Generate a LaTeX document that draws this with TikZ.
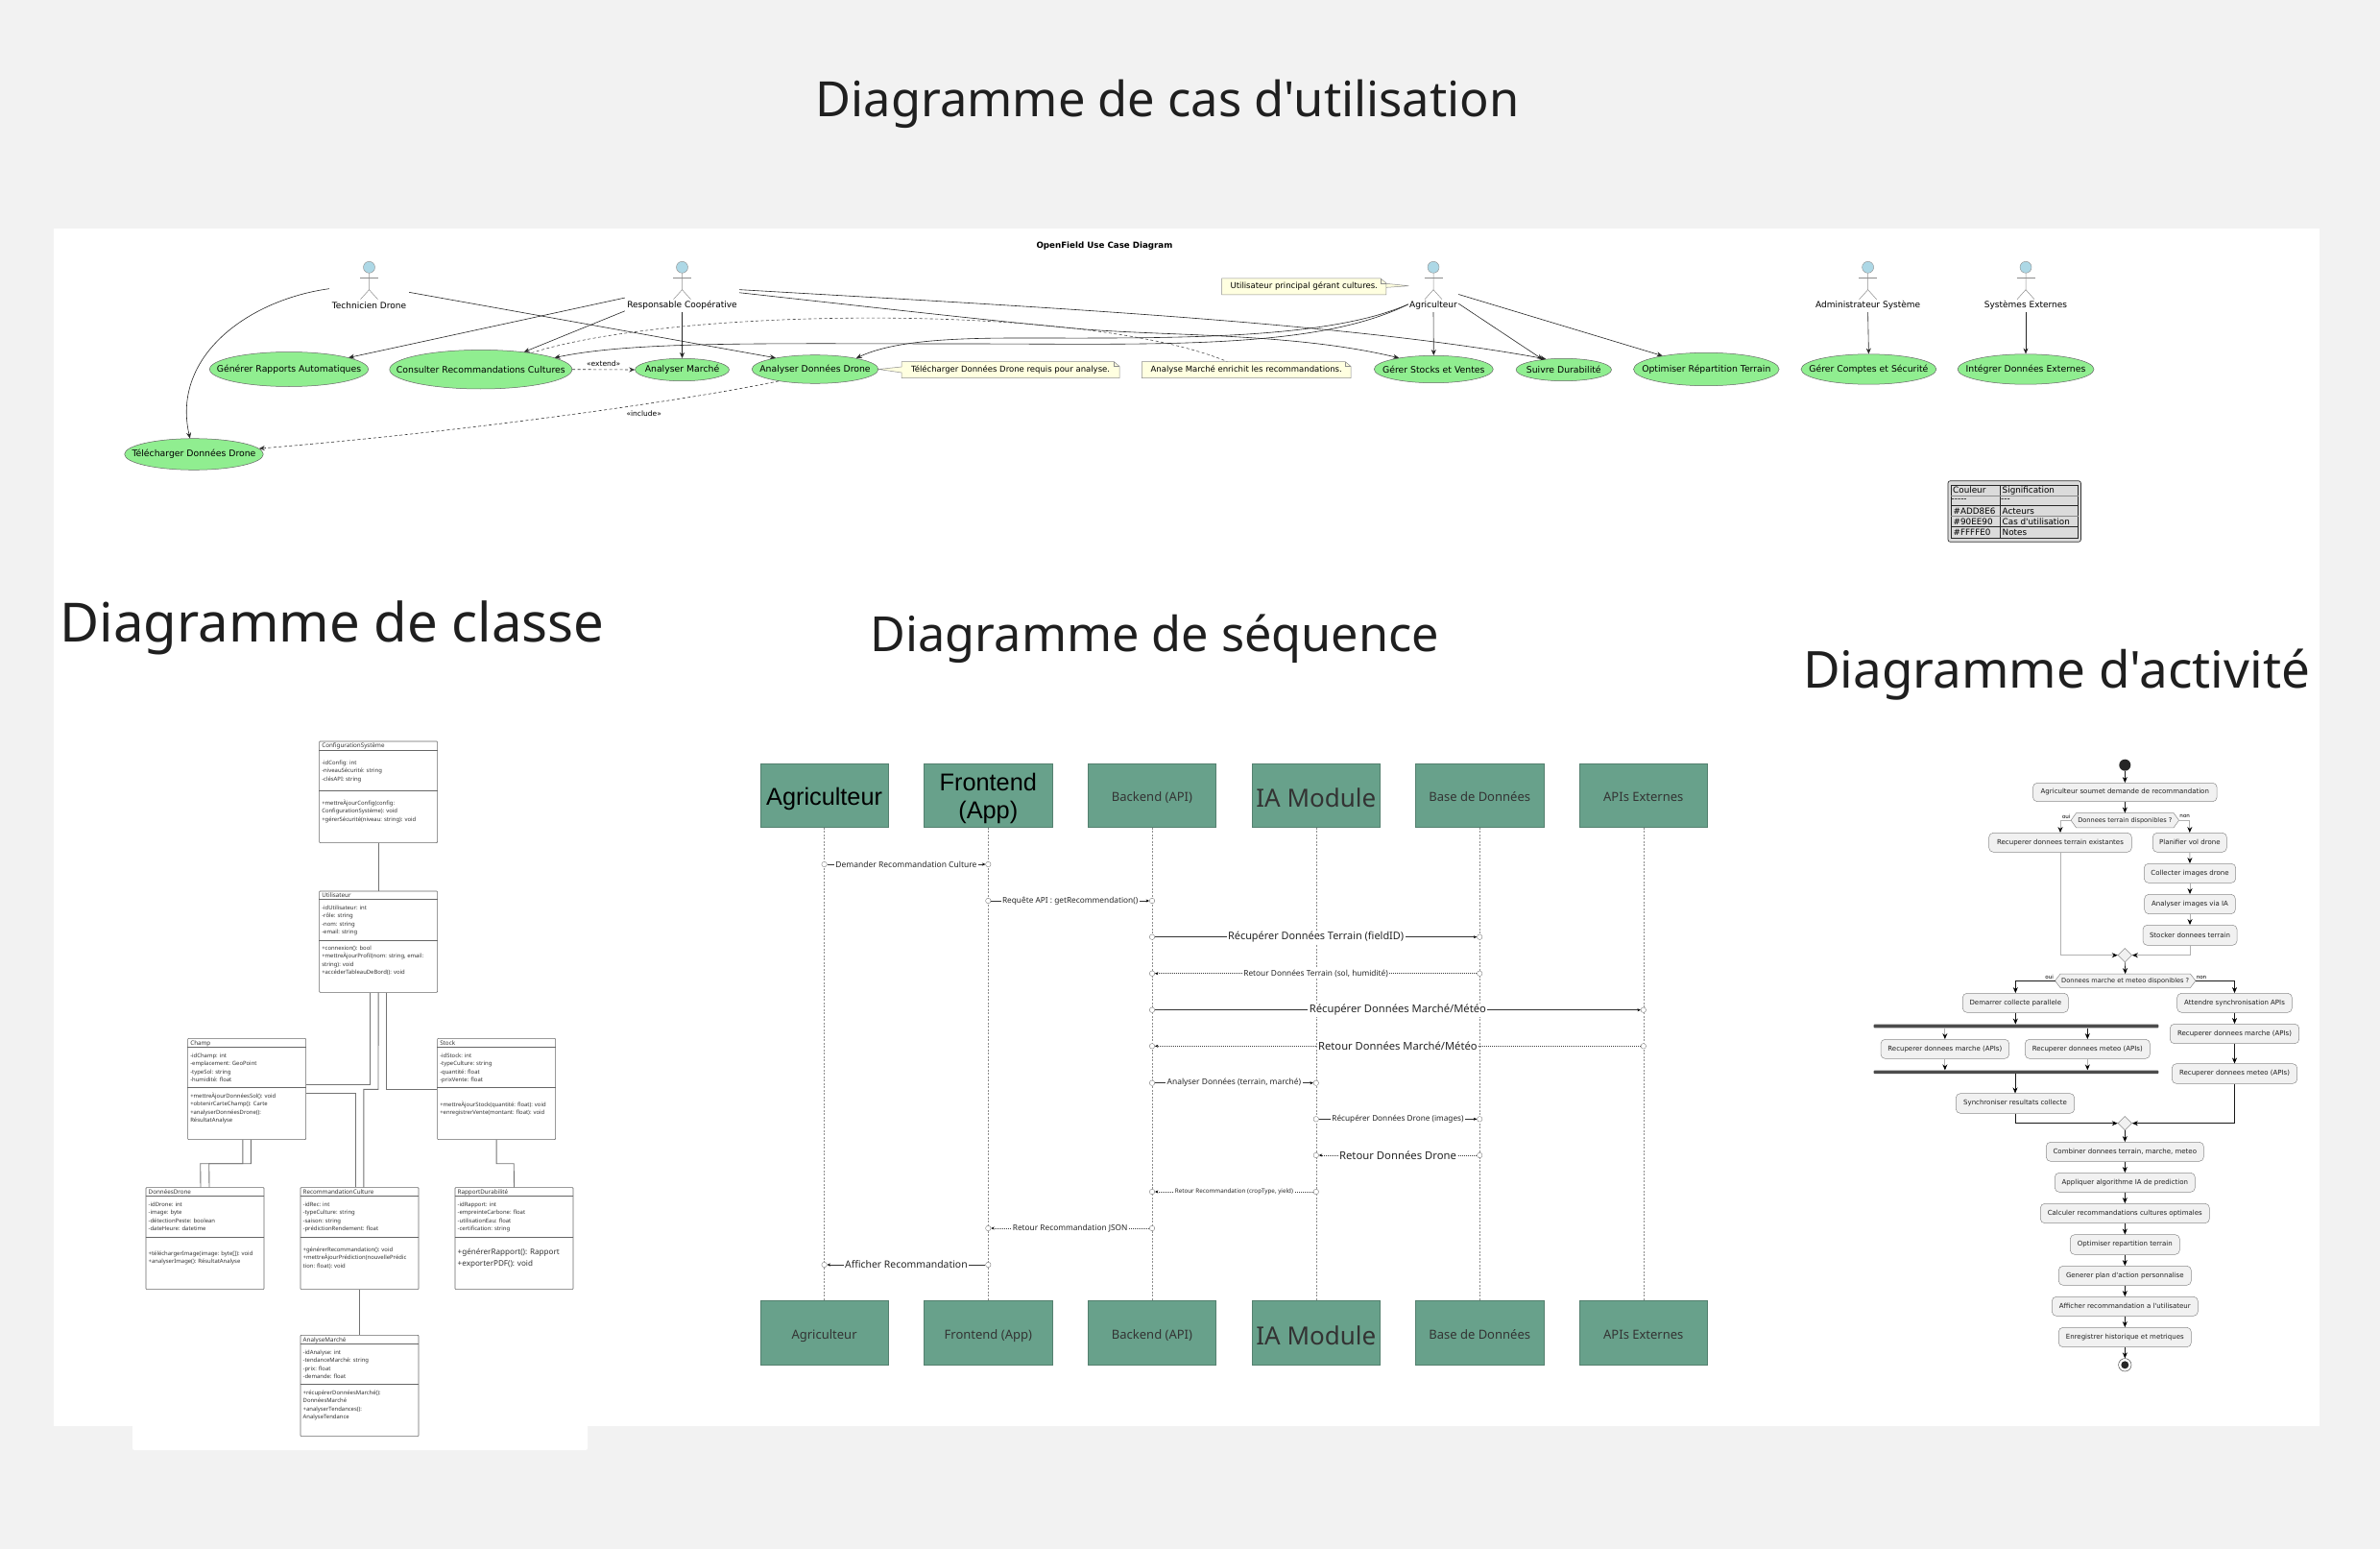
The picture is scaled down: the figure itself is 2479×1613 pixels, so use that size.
\documentclass[tikz,border=0pt]{standalone}
\usepackage{fontspec}
\usetikzlibrary{arrows.meta,shapes.geometric,calc}
\setmainfont{Noto Sans}
\newfontfamily\nt{Noto Sans}
\newfontfamily\dv{DejaVu Sans}
\newfontfamily\lib{Liberation Sans}
\newcommand\fsl[2]{\fontsize{#1}{#2}\selectfont}
\definecolor{pagebg}{HTML}{F2F2F2}
\definecolor{seqfill}{HTML}{68A18B}
\definecolor{seqedge}{HTML}{54806F}
\definecolor{ucfill}{HTML}{90EE90}
\definecolor{notefill}{HTML}{FFFFE0}
\definecolor{headfill}{HTML}{ADD8E6}
\definecolor{actfill}{HTML}{F1F1F1}
\definecolor{txt}{HTML}{1F1F1F}
\tikzset{
  >={Stealth[length=6pt,width=5pt,inset=2pt]},
  pagetitle/.style={text=txt,inner sep=0pt},
  ucase/.style={ellipse,draw=black!60,fill=ucfill,line width=.5pt,inner sep=0pt,font=\dv\fsl{9.3}{11},text=black},
  uclink/.style={->,black!85,line width=.6pt},
  ucdash/.style={->,black!80,line width=.6pt,dash pattern=on 3pt off 2.5pt},
  actorbb/.style={inner sep=0pt,minimum height=53pt},
  actorlab/.style={inner sep=0pt,font=\dv\fsl{9}{11},text=black},
  headnode/.style={circle,draw=black!45,fill=headfill,inner sep=0pt,minimum size=12pt,line width=.4pt},
  stick/.style={black!45,line width=.5pt},
  notetext/.style={inner sep=0pt,font=\dv\fsl{8.5}{10},text=black},
  noteline/.style={draw=black!45,fill=notefill,line width=.5pt},
  legtxt/.style={inner sep=0pt,anchor=west,font=\dv\fsl{8.8}{10},text=black},
  clsbox/.style={draw=black!60,fill=white,line width=.6pt,inner sep=0pt,rounded corners=.8pt,anchor=north west,minimum width=123pt},
  clstitle/.style={inner sep=0pt,anchor=west,font=\fsl{6.25}{8},text=black!80},
  clslist/.style={inner sep=0pt,anchor=north west,align=left,font=\fsl{5.9}{8.5},text=black!80},
  clsrule/.style={black!60,line width=.6pt},
  clslink/.style={black!55,line width=.9pt},
  seqbox/.style={draw=seqedge,fill=seqfill,line width=.5pt,minimum width=133.4pt,minimum height=66.7pt,inner sep=0pt,align=center,text=black!80,font=\fsl{13}{16},text height=13pt,text depth=0pt},
  seqlarge/.style={font=\fsl{26}{28},text height=24pt,text depth=0pt},
  seqarial/.style={inner sep=0pt,align=center,text=black,font=\lib\fsl{25.3}{28.5}},
  lifeline/.style={black!45,line width=.45pt,dash pattern=on 2pt off 1.5pt},
  msgsolid/.style={black!80,line width=.6pt},
  msgdot/.style={black!75,line width=.6pt,dash pattern=on 1pt off 1pt},
  msgtxt/.style={fill=white,inner sep=1.5pt,text=black!85},
  endcirc/.style={circle,draw=black!50,fill=white,line width=.4pt,minimum size=5.5pt,inner sep=0pt},
  actbox/.style={draw=black!45,fill=actfill,rounded corners=4.5pt,line width=.5pt,inner sep=0pt,font=\dv\fsl{7}{8},text=txt},
  acttxt/.style={inner sep=0pt,font=\dv\fsl{6.6}{8},text=txt},
  actlbl/.style={inner sep=0pt,font=\dv\fsl{5.6}{7},text=black},
  actshape/.style={draw=black!45,fill=actfill,line width=.5pt},
  actflow/.style={-{Stealth[length=6pt,width=5pt,inset=2pt,black]},black!90,line width=.6pt},
  actpale/.style={-{Stealth[length=6pt,width=5pt,inset=2pt,black]},black!30,line width=.9pt},
  forkbar/.style={fill=black!70,rounded corners=.8pt,inner sep=0pt,minimum height=3.6pt},
  mergediam/.style={diamond,aspect=1,draw=black!45,fill=actfill,line width=.5pt,inner sep=0pt,minimum size=14.6pt},
}
% use case
\newcommand\ucnode[6]{\node[ucase,minimum width={2*#4},minimum height={2*#5}] (#1) at (#2,#3) {\makebox[0pt][c]{#6}};}
\newcommand\actor[4]{%
  \node[actorbb,minimum width={2*#3}] (#1) at (#2,298.5) {};
  \node[headnode] (#1H) at (#2,278.3) {};
  \node[actorlab] (#1L) at (#2,318.3) {#4};
  \draw[stick] (#1H.south) -- (#2,301.7) -- ({#2-9},311.7);
  \draw[stick] (#2,301.7) -- ({#2+9},311.7);
  \draw[stick] ({#2-9.5},289) -- ({#2+9.5},289);
}
\newcommand\notebox[6]{\node[notetext,minimum width={#4-#2},minimum height={#5-#3}] (#1) at ({(#2+#4)/2},{(#3+#5)/2}) {#6};}
% classes
\newcommand\cls[6]{%
  \node[clsbox,minimum height={#4-#3}] (#1) at (#2,#3) {};
  \draw[clsrule] (#1.west |- 0,#5) -- (#1.east |- 0,#5);
  \draw[clsrule] (#1.west |- 0,#6) -- (#1.east |- 0,#6);
}
\newcommand\clst[5]{\node[clstitle] (#1) at ({#2+2.8},#3) {#4};}
\newcommand\clsl[4]{\node[clslist] (#1) at ({#2+2.8},{#3-4.4}) {\strut #4};}
\newcommand\clsL[4]{\node[clslist,font=\fsl{8.1}{12}] (#1) at ({#2+2.8},{#3-6.2}) {\strut #4};}
% sequence
\newcommand\msg[7]{%
  \coordinate (#1a) at (#3 |- 0,#5);
  \coordinate (#1b) at (#4 |- 0,#5);
  \node[endcirc] (#1c) at (#1a) {};
  \node[endcirc] (#1d) at (#1b) {};
  \draw[#2,-{Stealth[length=3.4pt,width=3pt,black]}] (#1c) -- (#1d);
  \node[msgtxt,font=\fsl{#6}{#6}] (#1t) at ($(#1a)!.5!(#1b)$) {#7};
}
% activity
\newcommand\actn[6]{\node[actbox,minimum width={#4-#2},minimum height={#5-#3}] (#1) at ({(#2+#4)/2},{(#3+#5)/2}) {#6};}
\newcommand\actc[5]{\node[actbox,minimum width={2*#2},minimum height={#4-#3}] (#1) at (2213.3,{(#3+#4)/2}) {#5};}
\newcommand\hexn[6]{%
  \node[acttxt,minimum width={#4-#2},minimum height={#5-#3}] (#1) at ({(#2+#4)/2},{(#3+#5)/2}) {};
  \draw[actshape] (#1.west) -- ([xshift=5.5pt]#1.north west) -- ([xshift=-5.5pt]#1.north east) -- (#1.east) -- ([xshift=-5.5pt]#1.south east) -- ([xshift=5.5pt]#1.south west) -- cycle;
  \node[acttxt] (#1T) at (#1) {#6};
}
\begin{document}
\begin{tikzpicture}[x=1pt,y=-1pt]
\useasboundingbox (0,0) rectangle (2479,1613);
\fill[pagebg] (0,0) rectangle (2479,1613);
\fill[white] (56,238) rectangle (2416,1485);
\fill[white,rounded corners=2pt] (138,757) rectangle (612,1510);

% titles
\node[pagetitle,font=\nt\fsl{50.6}{52}] (t1) at (1216,108) {Diagramme de cas d'utilisation};
\node[pagetitle,font=\nt\fsl{56.3}{60}] (t2) at (346,654) {Diagramme de classe};
\node[pagetitle,font=\nt\fsl{50.4}{55}] (t3) at (1203,665) {Diagramme de séquence};
\node[pagetitle,font=\nt\fsl{53}{55}] (t4) at (2142,703) {Diagramme d'activité};

% ---------- use case ----------
\node[inner sep=0pt,font=\dv\bfseries\fsl{8.7}{10},text=black] (uctitle) at (1150.5,256) {OpenField Use Case Diagram};
\actor{aTech}{384.5}{41.5}{Technicien Drone}
\actor{aResp}{710.5}{59.5}{Responsable Coopérative}
\actor{aAgri}{1493}{26}{Agriculteur}
\actor{aAdmin}{1945.6}{56}{Administrateur Système}
\actor{aSys}{2110}{45}{Systèmes Externes}

\ucnode{uGen}{301}{384.5}{82.6}{18}{Générer Rapports Automatiques}
\ucnode{uCons}{500.8}{384.7}{95}{20.3}{Consulter Recommandations Cultures}
\ucnode{uMar}{710.5}{385}{49}{11.7}{Analyser Marché}
\ucnode{uAna}{849}{384.5}{65.8}{14.8}{Analyser Données Drone}
\ucnode{uTel}{202}{473}{72.3}{16.3}{Télécharger Données Drone}
\ucnode{uSto}{1493.3}{384.5}{62}{14.2}{Gérer Stocks et Ventes}
\ucnode{uDur}{1628.8}{385}{49.7}{11.7}{Suivre Durabilité}
\ucnode{uOpt}{1777.3}{384.5}{75.8}{17.2}{Optimiser Répartition Terrain}
\ucnode{uCpt}{1946.4}{384.5}{70.4}{15.7}{Gérer Comptes et Sécurité}
\ucnode{uInt}{2110}{384.5}{71}{15.7}{Intégrer Données Externes}

% notes
\notebox{nTel}{939.3}{376.7}{1165.9}{393.3}{}
\notebox{nMar}{1189.6}{376.7}{1406.8}{393.3}{}
\notebox{nAgr}{1272.9}{290}{1443.6}{306.7}{}
\draw[noteline] (nTel.north west) -- ([xshift=-6pt]nTel.north east) -- ([yshift=-5pt]nTel.north east) -- (nTel.south east) -- (nTel.south west) -- ([yshift=-3pt]nTel.west) -- (uAna.east) -- ([yshift=3pt]nTel.west) -- cycle;
\draw[noteline] (nMar.north west) -- ([xshift=-6pt]nMar.north east) -- ([yshift=-5pt]nMar.north east) -- (nMar.south east) -- (nMar.south west) -- cycle;
\coordinate (nAgrTip) at (1467.3,297.7);
\draw[noteline] (nAgr.north west) -- ([xshift=-6pt]nAgr.north east) -- ([yshift=-5pt]nAgr.north east) -- ([yshift=-1pt]nAgr.east) -- (nAgrTip) -- ([yshift=3pt]nAgr.east) -- (nAgr.south east) -- (nAgr.south west) -- cycle;
\draw[black!45,line width=.5pt] ([xshift=-6pt]nTel.north east) -- ([xshift=-6pt,yshift=-5pt]nTel.north east) -- ([yshift=-5pt]nTel.north east);
\draw[black!45,line width=.5pt] ([xshift=-6pt]nMar.north east) -- ([xshift=-6pt,yshift=-5pt]nMar.north east) -- ([yshift=-5pt]nMar.north east);
\draw[black!45,line width=.5pt] ([xshift=-6pt]nAgr.north east) -- ([xshift=-6pt,yshift=-5pt]nAgr.north east) -- ([yshift=-5pt]nAgr.north east);
\node[notetext] (nTelT) at (nTel) {Télécharger Données Drone requis pour analyse.};
\node[notetext] (nMarT) at (nMar) {Analyse Marché enrichit les recommandations.};
\node[notetext] (nAgrT) at (nAgr) {Utilisateur principal gérant cultures.};

% links
\draw[uclink] (aTech.183) .. controls (260,312) and (178,370) .. (uTel.104);
\draw[uclink] (aTech.-8) -- (uAna.164.6);
\draw[uclink] (aResp.191.8) -- (uGen.11.7);
\draw[uclink] (aResp.203.3) -- (uCons.22.8);
\draw[uclink] (aResp.south) -- (uMar.north);
\draw[uclink] (aResp.-3) .. controls (1050,318) and (1400,335) .. (uDur.149);
\draw[uclink] (aResp.-6.2) .. controls (900,319) and (1050,336) .. (1131,343) .. controls (1220,350) and (1350,347) .. (uSto.162.4);
\draw[uclink] (aAgri.215) .. controls (1370,365) and (1200,358) .. (1000,358) .. controls (800,358) and (660,355) .. (uCons.9.3);
\draw[uclink] (aAgri.215) .. controls (1380,355) and (1210,352) .. (1060,352) .. controls (990,352) and (930,355) .. (uAna.15.6);
\draw[uclink] (aAgri.south) -- (uSto.north);
\draw[uclink] (aAgri.-34) -- (uDur.154.8);
\draw[uclink] (aAgri.-17.5) -- (uOpt.163.4);
\draw[uclink] (aAdmin.south) -- (uCpt.north);
\draw[uclink] (aSys.south) -- (uInt.north);
\draw[ucdash] (uCons.east) -- node[above=3pt,inner sep=0pt,font=\dv\fsl{7.5}{9},text=black] (lExt) {«extend»} (uMar.west);
\draw[ucdash] (uAna.198.2) .. controls (710,418) and (480,450) .. (uTel.5.3);
\node[inner sep=0pt,font=\dv\fsl{7.5}{9},text=black] (lInc) at (670.7,431) {«include»};
\draw[black!70,line width=.6pt,dash pattern=on 3pt off 2.5pt] (uCons.18.2) .. controls (700,320) and (1130,315) .. (nMar.157.5);

% legend
\node[draw=black!80,fill=black!14,rounded corners=2.5pt,line width=.7pt,minimum width=138.5pt,minimum height=63.6pt,inner sep=0pt] (legend) at (2098.2,532.5) {};
\draw[black!85,line width=.7pt] (2032,505.7) rectangle (2164.5,560);
\draw[black!85,line width=.6pt] (2083.3,505.7) -- (2083.3,560);
\draw[black!45,line width=1.2pt] (2032,516.3) -- (2164.5,516.3);
\draw[black!85,line width=.7pt] (2032,526.3) -- (2164.5,526.3);
\draw[black!45,line width=1.2pt] (2032,537.7) -- (2164.5,537.7);
\draw[black!85,line width=.7pt] (2032,548.7) -- (2164.5,548.7);
\node[legtxt] (lg1) at (2034,510.6) {Couleur};
\node[legtxt] (lg2) at (2085.5,510.6) {Signification};
\node[legtxt] (lg3) at (2032.5,521.4) {-----};
\node[legtxt] (lg4) at (2084,521.4) {---};
\node[legtxt] (lg5) at (2034.5,532.2) {\#ADD8E6};
\node[legtxt] (lg6) at (2085.5,532.2) {Acteurs};
\node[legtxt] (lg7) at (2034.5,543.2) {\#90EE90};
\node[legtxt] (lg8) at (2085.5,543.2) {Cas d'utilisation};
\node[legtxt] (lg9) at (2034.5,554) {\#FFFFE0};
\node[legtxt] (lg10) at (2085.5,554) {Notes};

% ---------- classes ----------
\cls{cCfg}{332.3}{771.7}{877.3}{781.7}{823.3}
\cls{cUsr}{332.3}{927.7}{1033}{936.7}{979.3}
\cls{cCha}{195.3}{1081}{1186.3}{1090.7}{1132.7}
\cls{cSto}{455.3}{1081}{1186.3}{1090.7}{1132.7}
\cls{cDro}{151.7}{1236.3}{1342.3}{1245.7}{1288.3}
\cls{cRec}{312.7}{1236.3}{1342.3}{1245.7}{1288.3}
\cls{cRap}{473.7}{1236.3}{1342.3}{1245.7}{1288.3}
\cls{cAna}{312.7}{1390}{1495.3}{1399.7}{1441.7}

\clst{cCfgT}{332.3}{777}{ConfigurationSystème}{}
\clsl{cCfgA}{332.3}{794.7}{-idConfig: int\\-niveauSécurité: string\\-clésAPI: string}
\clsl{cCfgM}{332.3}{836.7}{+mettreÀjourConfig(config:\\ConfigurationSystème): void\\+gérerSécurité(niveau: string): void}

\clst{cUsrT}{332.3}{932.5}{Utilisateur}{}
\clsl{cUsrA}{332.3}{945.3}{-idUtilisateur: int\\-rôle: string\\-nom: string\\-email: string}
\clsl{cUsrM}{332.3}{987.7}{+connexion(): bool\\+mettreÀjourProfil(nom: string, email:\\string): void\\+accéderTableauDeBord(): void}

\clst{cChaT}{195.3}{1086.5}{Champ}{}
\clsl{cChaA}{195.3}{1099.3}{-idChamp: int\\-emplacement: GeoPoint\\-typeSol: string\\-humidité: float}
\clsl{cChaM}{195.3}{1141.7}{+mettreÀjourDonnéesSol(): void\\+obtenirCarteChamp(): Carte\\+analyserDonnéesDrone():\\RésultatAnalyse}

\clst{cStoT}{455.3}{1086.5}{Stock}{}
\clsl{cStoA}{455.3}{1099.3}{-idStock: int\\-typeCulture: string\\-quantité: float\\-prixVente: float}
\clsl{cStoM}{455.3}{1150.3}{+mettreÀjourStock(quantité: float): void\\+enregistrerVente(montant: float): void}

\clst{cDroT}{151.7}{1241.5}{DonnéesDrone}{}
\clsl{cDroA}{151.7}{1254.7}{-idDrone: int\\-image: byte\\-détectionPeste: boolean\\-dateHeure: datetime}
\clsl{cDroM}{151.7}{1305.3}{+téléchargerImage(image: byte[]): void\\+analyserImage(): RésultatAnalyse}

\clst{cRecT}{312.7}{1241.5}{RecommandationCulture}{}
\clsl{cRecA}{312.7}{1254.7}{-idRec: int\\-typeCulture: string\\-saison: string\\-prédictionRendement: float}
\clsl{cRecM}{312.7}{1301.3}{+générerRecommandation(): void\\+mettreÀjourPrédiction(nouvellePrédic\\tion: float): void}

\clst{cRapT}{473.7}{1241.5}{RapportDurabilité}{}
\clsl{cRapA}{473.7}{1254.7}{-idRapport: int\\-empreinteCarbone: float\\-utilisationEau: float\\-certification: string}
\clsL{cRapM}{473.7}{1304}{+générerRapport(): Rapport\\+exporterPDF(): void}

\clst{cAnaT}{312.7}{1395.5}{AnalyseMarché}{}
\clsl{cAnaA}{312.7}{1408.3}{-idAnalyse: int\\-tendanceMarché: string\\-prix: float\\-demande: float}
\clsl{cAnaM}{312.7}{1450.7}{+récupérerDonnéesMarché():\\DonnéesMarché\\+analyserTendances():\\AnalyseTendance}

\draw[clslink] (cCfg.south) -- (cUsr.north);
\draw[clslink] ([xshift=-8.7pt]cUsr.south) |- (cCha.east |- 0,1129.3);
\draw[clslink] (cUsr.south) -- (394,1134.3) -| ([xshift=4.3pt]cRec.north);
\draw[clslink] ([xshift=8.7pt]cUsr.south) |- (cSto.west |- 0,1134);
\draw[clslink] (cCha.east |- 0,1138.3) -| ([xshift=-4.5pt]cRec.north);
\draw[clslink] ([xshift=-4.3pt]cCha.south) |- (208.7,1211.7) -- ([xshift=-4.5pt]cDro.north);
\draw[clslink] ([xshift=4.3pt]cCha.south) |- (217.7,1211.7) -- ([xshift=4.5pt]cDro.north);
\draw[clslink] (cSto.south) |- (535.2,1211.7) -- (cRap.north);
\draw[clslink] (cRec.south) -- (cAna.north);

% ---------- sequence ----------
\node[seqbox] (sA) at (858.6,828.3) {};
\node[seqarial] (sAt) at (858.6,831.5) {Agriculteur};
\node[seqbox] (sF) at (1029.3,828.3) {};
\node[seqarial] (sFt) at (1029.3,831.5) {Frontend\\(App)};
\node[seqbox] (sB) at (1200,828.3) {Backend (API)};
\node[seqbox,seqlarge] (sI) at (1370.8,828.3) {IA Module};
\node[seqbox] (sD) at (1541.2,828.3) {Base de Données};
\node[seqbox] (sE) at (1711.8,828.3) {APIs Externes};
\node[seqbox] (bA) at (858.6,1388) {Agriculteur};
\node[seqbox] (bF) at (1029.3,1388) {Frontend (App)};
\node[seqbox] (bB) at (1200,1388) {Backend (API)};
\node[seqbox,seqlarge] (bI) at (1370.8,1388) {IA Module};
\node[seqbox] (bD) at (1541.2,1388) {Base de Données};
\node[seqbox] (bE) at (1711.8,1388) {APIs Externes};
\draw[lifeline] (sA.south) -- (bA.north);
\draw[lifeline] (sF.south) -- (bF.north);
\draw[lifeline] (sB.south) -- (bB.north);
\draw[lifeline] (sI.south) -- (bI.north);
\draw[lifeline] (sD.south) -- (bD.north);
\draw[lifeline] (sE.south) -- (bE.north);
\msg{m1}{msgsolid}{sA}{sF}{900}{8.5}{Demander Recommandation Culture}
\msg{m2}{msgsolid}{sF}{sB}{938}{8.3}{Requête API : getRecommendation()}
\msg{m3}{msgsolid}{sB}{sD}{975.7}{10.9}{Récupérer Données Terrain (fieldID)}
\msg{m4}{msgdot}{sD}{sB}{1013.7}{8.3}{Retour Données Terrain (sol, humidité)}
\msg{m5}{msgsolid}{sB}{sE}{1051.7}{11.2}{Récupérer Données Marché/Météo}
\msg{m6}{msgdot}{sE}{sB}{1089.3}{11.2}{Retour Données Marché/Météo}
\msg{m7}{msgsolid}{sB}{sI}{1127.7}{8.4}{Analyser Données (terrain, marché)}
\msg{m8}{msgsolid}{sI}{sD}{1165.3}{8.2}{Récupérer Données Drone (images)}
\msg{m9}{msgdot}{sD}{sI}{1203}{11.3}{Retour Données Drone}
\msg{m10}{msgdot}{sI}{sB}{1241}{6.25}{Retour Recommandation (cropType, yield)}
\msg{m11}{msgdot}{sB}{sF}{1279}{8.3}{Retour Recommandation JSON}
\msg{m12}{msgsolid}{sF}{sA}{1317}{10.4}{Afficher Recommandation}

% ---------- activity ----------
\node[circle,fill=black!85,minimum size=12pt,inner sep=0pt] (acS) at (2213.3,796.7) {};
\actc{ac1}{95.8}{815.3}{834.7}{Agriculteur soumet demande de recommandation}
\hexn{dec1}{2157.3}{846.7}{2269.3}{861.7}{Donnees terrain disponibles ?}
\node[actlbl] (lo1) at (2152.3,850.3) {oui};
\node[actlbl] (ln1) at (2275.7,850.3) {non};
\actn{ac2}{2071.7}{867.3}{2220.3}{887.3}{Recuperer donnees terrain existantes}
\actn{ac3}{2242.3}{867.3}{2319.3}{887.3}{Planifier vol drone}
\actn{ac4}{2233.3}{899.3}{2328.7}{919.3}{Collecter images drone}
\actn{ac5}{2233.7}{931.3}{2328.3}{951.7}{Analyser images via IA}
\actn{ac6}{2232}{963.3}{2330}{984.3}{Stocker donnees terrain}
\node[mergediam] (mg1) at (2213.3,994.7) {};
\hexn{dec2}{2140.7}{1014.3}{2286.7}{1028.3}{Donnees marche et meteo disponibles ?}
\node[actlbl] (lo2) at (2134.7,1017.3) {oui};
\node[actlbl] (ln2) at (2293,1017.7) {non};
\actn{ac7}{2044.3}{1034.3}{2154.3}{1054.3}{Demarrer collecte parallele}
\actn{ac8}{2267.7}{1034.3}{2387.3}{1054.3}{Attendre synchronisation APIs}
\node[forkbar,minimum width=296.6pt] (fk1) at (2100,1068.5) {};
\node[forkbar,minimum width=296.6pt] (fk2) at (2100,1116.4) {};
\actn{ac9}{1959}{1082.3}{2092.7}{1102.3}{Recuperer donnees marche (APIs)}
\actn{ac10}{2109.3}{1082.3}{2239.3}{1102.3}{Recuperer donnees meteo (APIs)}
\actn{ac11}{2037.3}{1138.7}{2160.7}{1159.3}{Synchroniser resultats collecte}
\actn{ac12}{2260.3}{1066.3}{2394.7}{1086.7}{Recuperer donnees marche (APIs)}
\actn{ac13}{2262.3}{1107.7}{2392.7}{1128.3}{Recuperer donnees meteo (APIs)}
\node[mergediam] (mg2) at (2213.3,1169.7) {};
\actc{ac14}{82}{1189.3}{1209.3}{Combiner donnees terrain, marche, meteo}
\actc{ac15}{73}{1221.3}{1241.3}{Appliquer algorithme IA de prediction}
\actc{ac16}{88}{1253.3}{1273.7}{Calculer recommandations cultures optimales}
\actc{ac17}{57}{1285.7}{1306.3}{Optimiser repartition terrain}
\actc{ac18}{69}{1318.3}{1338.3}{Generer plan d'action personnalise}
\actc{ac19}{76}{1350.3}{1370.3}{Afficher recommandation a l'utilisateur}
\actc{ac20}{69}{1382.3}{1402.7}{Enregistrer historique et metriques}
\node[circle,draw=black!70,fill=white,line width=.5pt,minimum size=13.4pt,inner sep=0pt] (acE) at (2213.3,1421.3) {};
\node[circle,fill=black!85,minimum size=8pt,inner sep=0pt] (acEi) at (acE) {};

\draw[actflow] (acS) -- (ac1);
\draw[actflow] (ac1) -- (dec1.north);
\draw[actpale] (dec1.west) -| (ac2.north);
\draw[actpale] (dec1.east) -| (ac3.north);
\draw[actpale] (ac3) -- (ac4);
\draw[actpale] (ac4) -- (ac5);
\draw[actpale] (ac5) -- (ac6);
\draw[actpale] (ac2.south) |- (mg1.west);
\draw[actpale] (ac6.south) |- (mg1.east);
\draw[actflow] (mg1.south) -- (dec2.north);
\draw[actflow] (dec2.west) -| (ac7.north);
\draw[actflow] (dec2.east) -| (ac8.north);
\draw[actflow] (ac7.south) -- (ac7.south |- fk1.north);
\draw[actpale] (ac9.north |- fk1.south) -- (ac9.north);
\draw[actflow] (ac10.north |- fk1.south) -- (ac10.north);
\draw[actpale] (ac9.south) -- (ac9.south |- fk2.north);
\draw[actpale] (ac10.south) -- (ac10.south |- fk2.north);
\draw[actflow] (ac11.north |- fk2.south) -- (ac11.north);
\draw[actflow] (ac8) -- (ac12);
\draw[actflow] (ac12) -- (ac13);
\draw[actflow] (ac11.south) |- (mg2.west);
\draw[actflow] (ac13.south) |- (mg2.east);
\draw[actflow] (mg2.south) -- (ac14.north);
\draw[actflow] (ac14) -- (ac15);
\draw[actflow] (ac15) -- (ac16);
\draw[actflow] (ac16) -- (ac17);
\draw[actflow] (ac17) -- (ac18);
\draw[actflow] (ac18) -- (ac19);
\draw[actflow] (ac19) -- (ac20);
\draw[actflow] (ac20) -- (acE);
\end{tikzpicture}
\end{document}
